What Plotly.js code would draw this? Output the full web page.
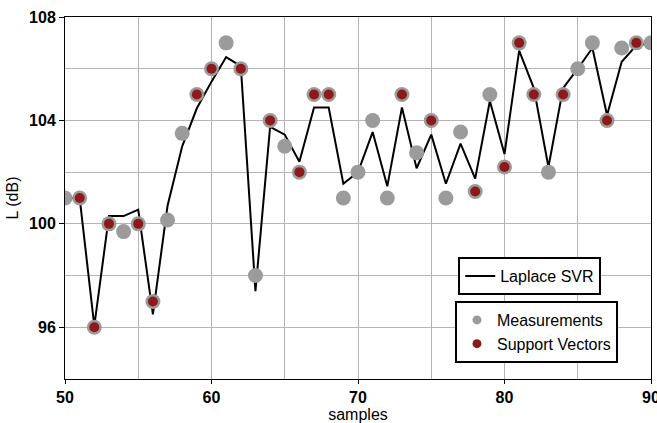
<!DOCTYPE html>
<html>
<head>
<meta charset="utf-8">
<script src="https://cdn.plot.ly/plotly-3.0.1.min.js"></script>
<style>html,body{margin:0;padding:0;background:#fff}#chart{width:657px;height:423px}</style>
</head>
<body>
<div id="chart"></div>
<script>
// samples
var samples = [50,51,52,53,54,55,56,57,58,59,60,61,62,63,64,65,66,67,68,69,70,
               71,72,73,74,75,76,77,78,79,80,81,82,83,84,85,86,87,88,89,90];
// measured level L (dB)
var measurements = [101,101,96,100,99.7,100,97,100.15,103.5,105,106,107,106,98,104,103,102,105,105,101,102,
                    104,101,105,102.75,104,101,103.55,101.25,105,102.2,107,105,102,105,106,107,104,106.8,107,107];
// Laplace SVR prediction
var svr = [101,101,96.05,100.3,100.3,100.55,96.5,100.7,103.0,104.47,105.5,106.45,106.1,97.4,103.75,103.45,102.4,104.5,104.5,101.55,102.0,
           103.55,101.45,104.5,102.15,103.45,101.55,103.1,101.75,104.75,102.7,106.7,105.25,102.2,105.25,106.0,106.8,104.2,106.27,106.9,107];
// support vector sample indices
var svSamples = [51,52,53,55,56,59,60,62,64,66,67,68,73,75,78,80,81,82,84,87,89];

var svValues = svSamples.map(function(s){ return measurements[samples.indexOf(s)]; });

var GRAY = '#9b9b9b', RED = '#8c1a1a';
var traces = [
  {x: samples, y: svr, type: 'scatter', mode: 'lines', name: 'Laplace SVR',
   line: {color: '#000', width: 2}, legend: 'legend'},
  {x: samples, y: measurements, type: 'scatter', mode: 'markers', name: 'Measurements',
   marker: {color: GRAY, size: 15}, showlegend: false},
  {x: svSamples, y: svValues, type: 'scatter', mode: 'markers', name: 'Support Vectors',
   marker: {color: RED, size: 10}, showlegend: false},
  {x: [null], y: [null], type: 'scatter', mode: 'markers', name: 'Measurements',
   marker: {color: GRAY, size: 9}, legend: 'legend2'},
  {x: [null], y: [null], type: 'scatter', mode: 'markers', name: 'Support Vectors',
   marker: {color: RED, size: 9}, legend: 'legend2'}
];

var axisCommon = {
  showline: true, linecolor: '#000', linewidth: 1, mirror: true,
  ticks: 'outside', ticklen: 4, tickcolor: '#000',
  showgrid: true, gridcolor: '#b4b4b4', gridwidth: 1, zeroline: false,
  ticklabeloverflow: 'allow',
  tickfont: {family: 'Liberation Sans, Arial, sans-serif', size: 16, color: '#000', weight: 'bold'}
};

var layout = {
  width: 657, height: 423,
  margin: {l: 65, r: 6, t: 17, b: 44},
  paper_bgcolor: '#fff', plot_bgcolor: '#fff',
  font: {family: 'Liberation Sans, Arial, sans-serif', color: '#000'},
  showlegend: true,
  xaxis: Object.assign({}, axisCommon, {
    range: [50, 90], tick0: 50, dtick: 10,
    minor: {showgrid: true, gridcolor: '#b4b4b4', gridwidth: 1, dtick: 5},
    title: {text: 'samples', font: {size: 16, color: '#000'}, standoff: 2}
  }),
  yaxis: Object.assign({}, axisCommon, {
    range: [94, 108], tick0: 96, dtick: 4, ticklen: 5,
    minor: {showgrid: true, gridcolor: '#b4b4b4', gridwidth: 1, dtick: 2},
    title: {text: 'L (dB)', font: {size: 16, color: '#000'}, standoff: 6}
  }),
  legend: {
    x: 0.671, y: 0.337, xanchor: 'left', yanchor: 'top',
    bgcolor: '#fff', bordercolor: '#000', borderwidth: 2,
    font: {size: 16, color: '#000'}
  },
  legend2: {
    x: 0.6655, y: 0.2155, xanchor: 'left', yanchor: 'top',
    bgcolor: '#fff', bordercolor: '#000', borderwidth: 2,
    font: {size: 16, color: '#000'}, tracegroupgap: 0
  }
};

Plotly.newPlot('chart', traces, layout, {displayModeBar: false, staticPlot: true});
</script>
</body>
</html>
